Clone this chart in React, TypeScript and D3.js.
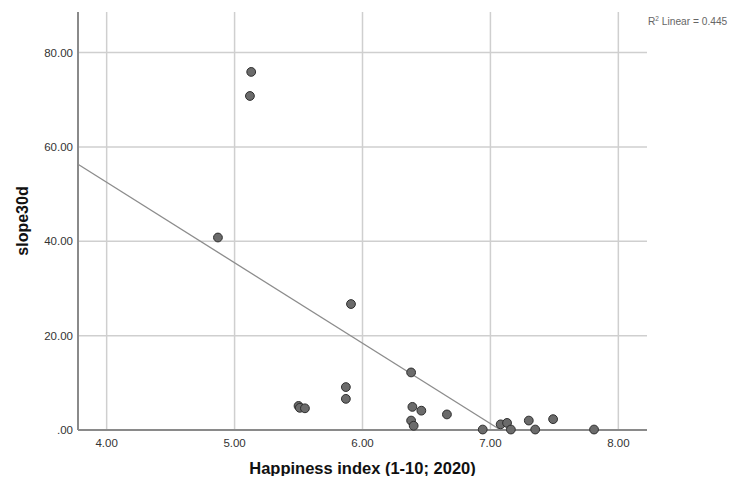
import React, { useRef, useEffect } from "react";
import * as d3 from "d3";

// happiness index (x) and slope30d (y)
const happiness = [5.13, 5.12, 4.87, 5.91, 6.38, 5.87, 5.87, 5.5, 5.51, 5.55, 6.39, 6.46, 6.38, 6.4, 6.66, 6.94, 7.08, 7.13, 7.16, 7.3, 7.35, 7.49, 7.81];
const slope30d = [75.9, 70.8, 40.8, 26.7, 12.2, 9.1, 6.6, 5.1, 4.7, 4.6, 4.9, 4.1, 2.0, 0.9, 3.3, 0.1, 1.2, 1.5, 0.1, 2.0, 0.1, 2.3, 0.1];

const xTicks = [4, 5, 6, 7, 8];
const yTicks = [0, 20, 40, 60, 80];

// linear fit shown in the chart
const fitIntercept = 120.7;
const fitSlope = -17.05;
const rSquared = 0.445;

const App = () => {
    const chart = useRef<SVGSVGElement>(null);

    useEffect(() => {
        const width = 737;
        const height = 484;
        const margin = { top: 12, right: 90, bottom: 54, left: 78 };
        const font = "'Liberation Sans', Arial, sans-serif";

        const svg = d3.select(chart.current);
        svg.selectAll("*").remove();
        svg.attr("width", width).attr("height", height).style("display", "block");

        const x = d3.scaleLinear().domain([3.776, 8.224]).range([margin.left, width - margin.right]);
        const y = d3.scaleLinear().domain([0, 88.6]).range([height - margin.bottom, margin.top]);

        // gridlines
        svg.append("g")
            .selectAll("line")
            .data(xTicks)
            .join("line")
            .attr("x1", d => x(d)).attr("x2", d => x(d))
            .attr("y1", y(88.6)).attr("y2", y(0))
            .attr("stroke", "#cfcfcf").attr("stroke-width", 1.5);

        svg.append("g")
            .selectAll("line")
            .data(yTicks.filter(d => d > 0))
            .join("line")
            .attr("x1", x(3.776)).attr("x2", x(8.224))
            .attr("y1", d => y(d)).attr("y2", d => y(d))
            .attr("stroke", "#cfcfcf").attr("stroke-width", 1.5);

        // axis lines
        svg.append("line")
            .attr("x1", x(3.776)).attr("x2", x(3.776))
            .attr("y1", y(88.6)).attr("y2", y(0))
            .attr("stroke", "#8a8a8a").attr("stroke-width", 2);
        svg.append("line")
            .attr("x1", x(3.776)).attr("x2", x(8.224))
            .attr("y1", y(0)).attr("y2", y(0))
            .attr("stroke", "#8a8a8a").attr("stroke-width", 2);

        // tick labels
        svg.append("g")
            .selectAll("text")
            .data(xTicks)
            .join("text")
            .attr("x", d => x(d))
            .attr("y", y(0) + 17)
            .attr("text-anchor", "middle")
            .attr("font-family", font).attr("font-size", 11.5).attr("fill", "#333")
            .text(d => d.toFixed(2));

        svg.append("g")
            .selectAll("text")
            .data(yTicks)
            .join("text")
            .attr("x", x(3.776) - 5)
            .attr("y", d => y(d) + 4)
            .attr("text-anchor", "end")
            .attr("font-family", font).attr("font-size", 11.5).attr("fill", "#333")
            .text(d => (d === 0 ? ".00" : d.toFixed(2)));

        // fit line, clipped at y = 0
        const x0 = x.domain()[0];
        const xEnd = Math.min(x.domain()[1], -fitIntercept / fitSlope);
        svg.append("line")
            .attr("x1", x(x0)).attr("y1", y(fitIntercept + fitSlope * x0))
            .attr("x2", x(xEnd)).attr("y2", y(fitIntercept + fitSlope * xEnd))
            .attr("stroke", "#8c8c8c").attr("stroke-width", 1.3);

        // points
        svg.append("g")
            .selectAll("circle")
            .data(happiness)
            .join("circle")
            .attr("cx", d => x(d))
            .attr("cy", (d, i) => y(slope30d[i]))
            .attr("r", 4.4)
            .attr("fill", "#6b6b6b")
            .attr("stroke", "#2e2e2e")
            .attr("stroke-width", 1);

        // titles
        svg.append("text")
            .attr("x", (x(3.776) + x(8.224)) / 2)
            .attr("y", 474)
            .attr("text-anchor", "middle")
            .attr("font-family", font).attr("font-size", 16.5).attr("font-weight", "bold").attr("fill", "#111")
            .text("Happiness index (1-10; 2020)");

        svg.append("text")
            .attr("transform", "translate(28," + y(44.3) + ") rotate(-90)")
            .attr("text-anchor", "middle")
            .attr("font-family", font).attr("font-size", 16).attr("font-weight", "bold").attr("fill", "#111")
            .text("slope30d");

        const r2 = svg.append("text")
            .attr("x", 648).attr("y", 25)
            .attr("font-family", font).attr("font-size", 10.2).attr("fill", "#666");
        r2.append("tspan").text("R");
        r2.append("tspan").attr("font-size", 6.5).attr("dy", -4).text("2");
        r2.append("tspan").attr("dy", 4).text(" Linear = " + rSquared.toFixed(3));
    });

    return (
        <div style={{ margin: -8, background: "#fff" }}>
            <svg ref={chart} />
        </div>
    );
};

export default App;
